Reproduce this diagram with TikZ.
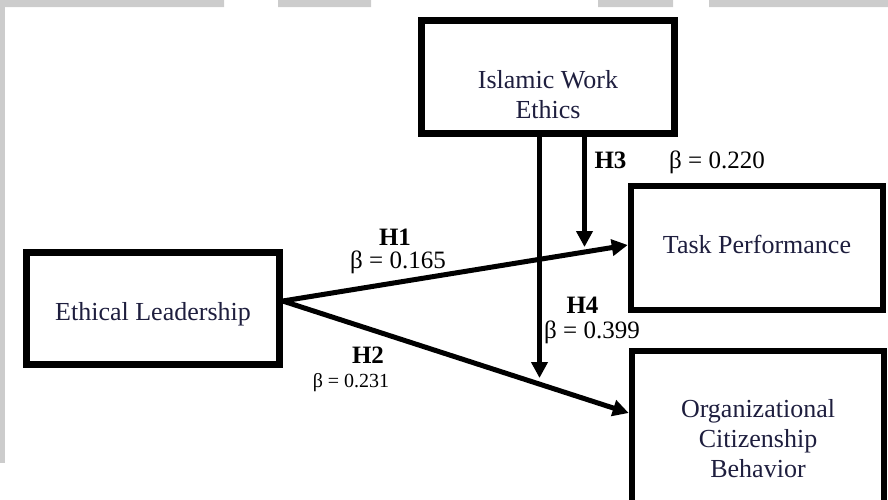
\documentclass[tikz,border=0pt]{standalone}
\usepackage{fontspec}
\setmainfont{Liberation Serif}
\usetikzlibrary{arrows.meta}
\definecolor{framegray}{RGB}{204,204,204}
\definecolor{boxtext}{RGB}{30,30,62}
\begin{document}
\begin{tikzpicture}[x=1pt,y=-1pt,
  box/.style={draw=black, line width=6.5pt, minimum width=253pt, inner sep=0pt},
  boxlabel/.style={text=boxtext, font=\fontsize{26}{30}\selectfont, align=center, anchor=base},
  path/.style={line width=5pt, -{Triangle[length=16pt,width=16pt]}},
  hyp/.style={font=\fontsize{25}{27}\selectfont\bfseries, anchor=base},
  coef/.style={font=\fontsize{25}{27}\selectfont, anchor=base},
]
\useasboundingbox (0,0) rectangle (888,499);
\clip (0,0) rectangle (888,499);

% page frame remnants
\fill[framegray] (0,0) rectangle (224,7) (278,0) rectangle (371,7)
  (598,0) rectangle (673,7) (709,0) rectangle (888,7);
\fill[framegray] (0,7) rectangle (5,463);

% constructs
\node[box, minimum height=113pt] (iwe) at (548,77) {};
\node[box, minimum height=112pt] (el) at (153,308.5) {};
\node[box, minimum width=252pt, minimum height=124pt] (tp) at (757,248) {};
\node[box, minimum width=252pt, minimum height=170pt] (ocb) at (758,436) {};

% multi-line labels sit on the baseline of their last line
\node[boxlabel] (iwe-t) at (548,118) {Islamic Work\\Ethics};
\node[boxlabel] (el-t) at (153,320) {Ethical Leadership};
\node[boxlabel] (tp-t) at (757,253) {Task Performance};
\node[boxlabel] (ocb-t) at (758,477) {Organizational\\Citizenship\\Behavior};

% hypothesised paths
\coordinate (src) at ([yshift=7.5pt]el.east);
\coordinate (h3tip) at (584.5,247);
\coordinate (h4tip) at (539.5,378);
\draw[path] (src) -- ([yshift=3pt]tp.west);
\draw[path] (src) -- ([yshift=23pt]ocb.west);
\draw[path] (iwe.south -| h3tip) -- (h3tip);
\draw[path] (iwe.south -| h4tip) -- (h4tip);

% path labels
\node[hyp] (h1) at (395,245) {H1};
\node[coef] (b1) at (398,268) {β = 0.165};
\node[hyp] (h2) at (368,363) {H2};
\node[coef, font=\fontsize{20}{22}\selectfont] (b2) at (351,387) {β = 0.231};
\node[hyp] (h3) at (610.5,168) {H3};
\node[coef] (b3) at (717,168) {β = 0.220};
\node[hyp] (h4) at (582.5,313) {H4};
\node[coef] (b4) at (592,338) {β = 0.399};
\end{tikzpicture}
\end{document}
